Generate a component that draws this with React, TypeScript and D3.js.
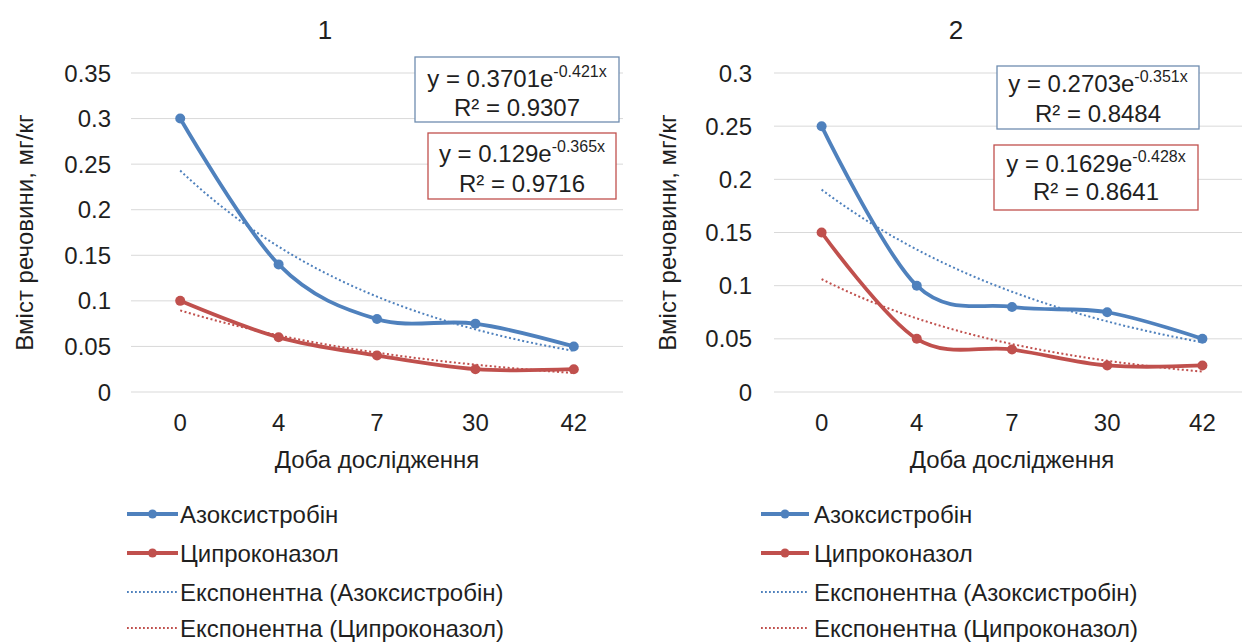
import React from "react";
import * as d3 from "d3";

// ---- data ----
const days = ["0", "4", "7", "30", "42"];
const seriesNames = ["Азоксистробін", "Ципроконазол"];
const trendNames = ["Експонентна (Азоксистробін)", "Експонентна (Ципроконазол)"];

const azoxy1 = [0.3, 0.14, 0.08, 0.075, 0.05];
const cypro1 = [0.1, 0.06, 0.04, 0.025, 0.025];
const azoxy2 = [0.25, 0.1, 0.08, 0.075, 0.05];
const cypro2 = [0.15, 0.05, 0.04, 0.025, 0.025];

// exponential trend coefficients y = a * e^(b*x), x = 1..5
const trendA1 = [0.3701, 0.129];
const trendB1 = [-0.421, -0.365];
const trendR1 = ["0.9307", "0.9716"];
const trendA2 = [0.2703, 0.1629];
const trendB2 = [-0.351, -0.428];
const trendR2 = ["0.8484", "0.8641"];

const ticks1 = [0, 0.05, 0.1, 0.15, 0.2, 0.25, 0.3, 0.35];
const ticks2 = [0, 0.05, 0.1, 0.15, 0.2, 0.25, 0.3];

const titles = ["1", "2"];
const yTitle = "Вміст речовини, мг/кг";
const xTitle = "Доба дослідження";

const BLUE = "#4F81BD";
const RED = "#C0504D";
const TEXT = "#1f1f1f";
const FONT = "'Liberation Sans', Arial, sans-serif";

type Panel = {
  title: string;
  titleX: number;
  series: number[][];
  a: number[];
  b: number[];
  r2: string[];
  ticks: number[];
  yMax: number;
  plotL: number;
  plotR: number;
  tickX: number;
  yTitleX: number;
  boxes: { x0: number; x1: number; y0: number; y1: number; l1: number; l2: number }[];
  legX: number;
  legLineL: number;
  legLineR: number;
};

const panels: Panel[] = [
  {
    title: titles[0],
    titleX: 325,
    series: [azoxy1, cypro1],
    a: trendA1,
    b: trendB1,
    r2: trendR1,
    ticks: ticks1,
    yMax: 0.35,
    plotL: 131,
    plotR: 623,
    tickX: 111,
    yTitleX: 33,
    boxes: [
      { x0: 415, x1: 619, y0: 57, y1: 122, l1: 87, l2: 116 },
      { x0: 428, x1: 616, y0: 133, y1: 199, l1: 162, l2: 192 },
    ],
    legX: 180,
    legLineL: 127,
    legLineR: 178,
  },
  {
    title: titles[1],
    titleX: 956,
    series: [azoxy2, cypro2],
    a: trendA2,
    b: trendB2,
    r2: trendR2,
    ticks: ticks2,
    yMax: 0.3,
    plotL: 774,
    plotR: 1250,
    tickX: 752,
    yTitleX: 676,
    boxes: [
      { x0: 997, x1: 1199, y0: 66, y1: 129, l1: 92, l2: 122 },
      { x0: 994, x1: 1198, y0: 145, y1: 210, l1: 172, l2: 200 },
    ],
    legX: 814,
    legLineL: 761,
    legLineR: 809,
  },
];

const PLOT_TOP = 73;
const PLOT_BOTTOM = 392;
const colors = [BLUE, RED];
const boxStroke = ["#6F8DB0", RED];
const legendY = [514, 553, 592, 628];

function PanelView({ p }: { p: Panel }) {
  const x = d3.scalePoint<string>().domain(days).range([p.plotL, p.plotR]).padding(0.5);
  const y = d3.scaleLinear().domain([0, p.yMax]).range([PLOT_BOTTOM, PLOT_TOP]);
  const xIdx = d3.scaleLinear().domain([1, days.length]).range([x(days[0])!, x(days[days.length - 1])!]);
  const line = d3
    .line<number>()
    .x((_, i) => x(days[i])!)
    .y((v) => y(v))
    .curve(d3.curveCardinal.tension(0));
  const samples = d3.range(0, 61).map((k) => 1 + (k / 60) * (days.length - 1));
  const trend = (a: number, b: number) =>
    d3
      .line<number>()
      .x((t) => xIdx(t))
      .y((t) => y(a * Math.exp(b * t)))(samples) || "";
  const midX = (p.plotL + p.plotR) / 2;
  const midY = (PLOT_TOP + PLOT_BOTTOM) / 2;
  return (
    <g fontFamily={FONT} fill={TEXT}>
      <text x={p.titleX} y={39} fontSize={26} textAnchor="middle">
        {p.title}
      </text>
      {p.ticks.map((t) => (
        <g key={t}>
          <line x1={p.plotL} x2={p.plotR} y1={y(t)} y2={y(t)} stroke="#D9D9D9" strokeWidth={1} />
          <text x={p.tickX} y={y(t) + 8.5} fontSize={24} textAnchor="end">
            {String(+t.toFixed(2))}
          </text>
        </g>
      ))}
      {days.map((d) => (
        <text key={d} x={x(d)!} y={431} fontSize={24} textAnchor="middle">
          {d}
        </text>
      ))}
      <text x={midX} y={468} fontSize={24} textAnchor="middle">
        {xTitle}
      </text>
      <text
        transform={`translate(${p.yTitleX},${midY}) rotate(-90)`}
        fontSize={24}
        textAnchor="middle"
      >
        {yTitle}
      </text>
      {p.series.map((s, si) => (
        <path
          key={"t" + si}
          d={trend(p.a[si], p.b[si])}
          fill="none"
          stroke={colors[si]}
          strokeWidth={2}
          strokeDasharray="2 2.5"
        />
      ))}
      {p.series.map((s, si) => (
        <g key={"s" + si}>
          <path d={line(s) || ""} fill="none" stroke={colors[si]} strokeWidth={3.8} strokeLinejoin="round" />
          {s.map((v, i) => (
            <circle key={i} cx={x(days[i])!} cy={y(v)} r={5} fill={colors[si]} />
          ))}
        </g>
      ))}
      {p.boxes.map((bx, bi) => (
        <g key={"b" + bi}>
          <rect
            x={bx.x0}
            y={bx.y0}
            width={bx.x1 - bx.x0}
            height={bx.y1 - bx.y0}
            fill="#fff"
            stroke={boxStroke[bi]}
            strokeWidth={1.3}
          />
          <text x={(bx.x0 + bx.x1) / 2} y={bx.l1} fontSize={24} textAnchor="middle">
            {`y = ${p.a[bi]}e`}
            <tspan fontSize={16} dy={-10}>{`${p.b[bi]}x`}</tspan>
          </text>
          <text x={(bx.x0 + bx.x1) / 2} y={bx.l2} fontSize={24} textAnchor="middle">
            {`R² = ${p.r2[bi]}`}
          </text>
        </g>
      ))}
      {[0, 1].map((si) => (
        <g key={"l" + si}>
          <line
            x1={p.legLineL}
            x2={p.legLineR}
            y1={legendY[si]}
            y2={legendY[si]}
            stroke={colors[si]}
            strokeWidth={3.8}
          />
          <circle cx={(p.legLineL + p.legLineR) / 2} cy={legendY[si]} r={4.5} fill={colors[si]} />
          <text x={p.legX} y={legendY[si] + 8.5} fontSize={24}>
            {seriesNames[si]}
          </text>
        </g>
      ))}
      {[0, 1].map((si) => (
        <g key={"lt" + si}>
          <line
            x1={p.legLineL}
            x2={p.legLineR}
            y1={legendY[si + 2]}
            y2={legendY[si + 2]}
            stroke={colors[si]}
            strokeWidth={1.8}
            strokeDasharray="1.8 2.2"
          />
          <text x={p.legX} y={legendY[si + 2] + 8.5} fontSize={24}>
            {trendNames[si]}
          </text>
        </g>
      ))}
    </g>
  );
}

export default function App() {
  return (
    <svg
      width={1242}
      height={643}
      style={{ position: "absolute", left: 0, top: 0, background: "#fff", display: "block" }}
    >
      <rect x={0} y={0} width={1242} height={643} fill="#fff" />
      {panels.map((p, i) => (
        <PanelView key={i} p={p} />
      ))}
    </svg>
  );
}
